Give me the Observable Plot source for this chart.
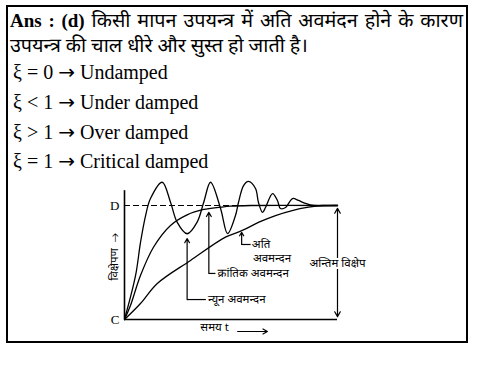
<!DOCTYPE html>
<html><head><meta charset="utf-8">
<script src="https://cdn.jsdelivr.net/npm/d3@7"></script>
<script src="https://cdn.jsdelivr.net/npm/@observablehq/plot@0.6"></script>
<style>
html,body{margin:0;padding:0;background:#fff;}
body{width:489px;height:366px;overflow:hidden;position:relative;}
#box{position:absolute;left:6px;top:5px;width:458px;height:334px;border:2px solid #000;}
.t{position:absolute;white-space:nowrap;color:#000;line-height:0;font-family:'Liberation Serif','Noto Sans Devanagari','Lohit Devanagari',serif;}
#l1{left:10px;width:453px;text-align:justify;text-align-last:justify;font-size:19.8px;}
#l1 b{font-size:19px;}
#l2{left:10px;font-size:19.8px;}
.f{left:13px;font-size:20px;}
.arr{font-family:'DejaVu Sans',sans-serif;font-weight:normal;}
#chart{position:absolute;left:0;top:0;}
</style>
</head><body>
<div id="box"></div>
<div id="chart"></div>
<div class="t" id="l1" style="top:20.3px"></div>
<div class="t" id="l2" style="top:45.3px"></div>
<div class="t f" style="top:72.3px" id="f0"></div>
<div class="t f" style="top:101.5px" id="f1"></div>
<div class="t f" style="top:131.5px" id="f2"></div>
<div class="t f" style="top:161px" id="f3"></div>
<script>
// ---- text content ----
const answerLead = "Ans : (d)";
const answerLine1 = "किसी मापन उपयन्त्र में अति अवमंदन होने के कारण";
const answerLine2 = "उपयन्त्र की चाल धीरे और सुस्त हो जाती है।";
const formulaLeft = ["ξ = 0", "ξ < 1", "ξ > 1", "ξ = 1"];
const formulaRight = ["Undamped", "Under damped", "Over damped", "Critical damped"];

// ---- curves (time t, deflection v; C = 0, D = 1) ----
const underT = [0, 0.52, 0.75, 0.99, 1.22, 1.77, 2.16, 2.47, 2.94, 3.41, 3.72, 4.04, 4.51, 4.84, 5.21, 5.35, 5.59, 5.82, 6.15, 6.29, 6.48, 6.62, 6.95, 7.18, 7.32, 7.56, 7.89, 8.17, 8.50, 8.87, 10];
const underV = [0, 0.386, 0.675, 0.912, 1.061, 1.204, 1.029, 0.854, 0.752, 0.854, 1.029, 1.204, 0.974, 0.754, 0.912, 1.026, 1.175, 1.211, 1.149, 1.026, 0.939, 0.982, 1.105, 1.044, 0.974, 0.982, 1.061, 1.044, 1.018, 1.0, 1.0];
const criticalT = [0, 0.28, 0.75, 1.36, 2.16, 2.94, 3.72, 4.51, 4.98, 5.92, 10];
const criticalV = [0, 0.123, 0.386, 0.634, 0.825, 0.918, 0.965, 0.985, 0.994, 1.0, 1.0];
const overT = [0, 0.75, 1.54, 3.10, 4.74, 5.53, 6.31, 7.09, 7.87, 8.64, 9.30, 10];
const overV = [0, 0.14, 0.316, 0.518, 0.722, 0.781, 0.854, 0.912, 0.956, 0.985, 1.0, 1.0];

// ---- axis labels ----
const levelLabels = ["D", "C"];
const levelValues = [1, 0];
const yTitle = "विक्षेपण  →";
const xTitle = "समय t";

// ---- annotations ----
const annLabels = ["न्यून अवमन्दन", "क्रांतिक अवमन्दन", "अति", "अवमन्दन"];
const annT = [3.92, 4.37, 5.98, 6.03];
const annV = [0.175, 0.404, 0.658, 0.535];
const pointerT = [2.94, 3.96, 5.5];
const pointerFrom = [0.175, 0.404, 0.658];
const pointerTo = [0.71, 0.94, 0.765];
const pointerEndT = [3.82, 4.27, 5.92];
const finalLabel = "अन्तिम विक्षेप";

const l1 = document.getElementById("l1");
l1.innerHTML = "<b>" + answerLead + "</b> " + answerLine1;
// shrink if natural width would overflow the box line
l1.style.textAlignLast = "left";
const probe = document.createElement("span");
probe.innerHTML = l1.innerHTML;
l1.innerHTML = ""; l1.appendChild(probe);
const nat = probe.getBoundingClientRect().width;
if (nat > 445) l1.style.fontSize = (19.8 * 445 / nat) + "px";
l1.innerHTML = "<b>" + answerLead + "</b> " + answerLine1;
l1.style.textAlignLast = "justify";
document.getElementById("l2").textContent = answerLine2;
formulaLeft.forEach((s, i) => {
  const el = document.getElementById("f" + i);
  el.innerHTML = "";
  el.append(s + " ");
  const a = document.createElement("span"); a.className = "arr"; a.textContent = "→";
  el.append(a, " " + formulaRight[i]);
});

const deva = "'Noto Sans Devanagari','Lohit Devanagari','FreeSans','DejaVu Sans',sans-serif";
const idx = a => a.map((_, i) => i);

const plot = Plot.plot({
  width: 489, height: 366,
  style: {background: "transparent", overflow: "visible"},
  x: {domain: [0, 10], range: [124, 337], axis: null},
  y: {domain: [0, 1], range: [319, 205], axis: null},
  marks: [
    Plot.ruleX([0], {y1: 0, y2: 1.13, strokeWidth: 1.6}),
    Plot.ruleY([0], {x1: 0, x2: 10, strokeWidth: 1.6}),
    Plot.ruleY([1], {x1: 0, x2: 10, strokeWidth: 1.2, strokeDasharray: "6,3"}),
    Plot.line(idx(overT), {x: i => overT[i], y: i => overV[i], curve: "catmull-rom", strokeWidth: 1.3}),
    Plot.line(idx(criticalT), {x: i => criticalT[i], y: i => criticalV[i], curve: "catmull-rom", strokeWidth: 1.3}),
    Plot.line(idx(underT), {x: i => underT[i], y: i => underV[i], curve: "catmull-rom", strokeWidth: 1.3}),
    Plot.text(idx(levelLabels), {x: 0, y: i => levelValues[i], text: i => levelLabels[i], dx: -5, textAnchor: "end", fontFamily: "'Liberation Serif',serif", fontSize: 13}),
    Plot.text([yTitle], {x: 0, y: 0.55, text: d => d, dx: -10, rotate: -90, fontFamily: deva, fontSize: 11.5}),
    Plot.text([xTitle], {x: 4.23, y: -0.066, text: d => d, fontFamily: deva, fontSize: 11.5}),
    Plot.arrow([0], {x1: 5.31, x2: 6.71, y1: -0.105, y2: -0.105, headLength: 7, headAngle: 60, strokeWidth: 1.1}),
    Plot.arrow(idx(pointerT), {x1: i => pointerT[i], x2: i => pointerT[i], y1: i => pointerFrom[i], y2: i => pointerTo[i], headLength: 6, headAngle: 60, strokeWidth: 1.2}),
    Plot.link(idx(pointerT), {x1: i => pointerT[i], x2: i => pointerEndT[i], y1: i => pointerFrom[i], y2: i => pointerFrom[i], strokeWidth: 1.2}),
    Plot.text(idx(annLabels), {x: i => annT[i], y: i => annV[i], text: i => annLabels[i], textAnchor: "start", fontFamily: deva, fontSize: 11.5}),
    Plot.arrow([0], {x1: 10, x2: 10, y1: 0.49, y2: 0.975, headLength: 7, headAngle: 60, strokeWidth: 1.2}),
    Plot.arrow([0], {x1: 10, x2: 10, y1: 0.49, y2: 0.025, headLength: 7, headAngle: 60, strokeWidth: 1.2}),
    Plot.text([finalLabel], {x: 10, y: 0.49, text: d => d, fontFamily: deva, fontSize: 11.5, stroke: "white", strokeWidth: 4, fill: "black"})
  ]
});
document.getElementById("chart").appendChild(plot);
</script>
</body></html>
